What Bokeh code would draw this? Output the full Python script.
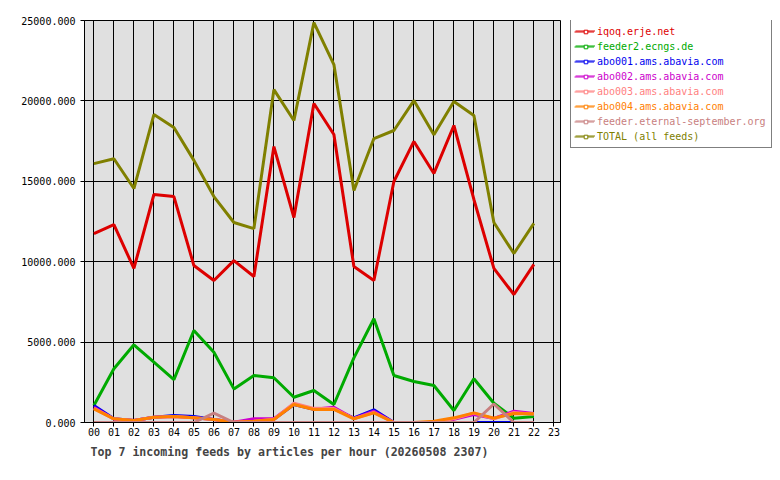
from bokeh.plotting import figure
from bokeh.layouts import row
from bokeh.models import (Range1d, FixedTicker, PrintfTickFormatter, Legend, LegendItem)
from bokeh.embed import file_html
from bokeh.resources import INLINE

hours = list(range(23))
hour_labels = ["%02d" % h for h in range(24)]

iqoq = [11750, 12310, 9580, 14180, 14050, 9760, 8830, 10070, 9080, 17160, 12750, 19840,
        17910, 9700, 8830, 14990, 17480, 15490, 18470, 13870, 9580, 7960, 9830]
feeder2 = [1060, 3340, 4830, 3750, 2670, 5720, 4370, 2090, 2920, 2780, 1570, 1990,
           1120, 4020, 6450, 2920, 2550, 2300, 750, 2720, 1200, 260, 380]
abo001 = [1060, 230, 120, 330, 435, 370, 190, 20, 80, 200, 1120, 820,
          850, 280, 790, 0, 0, 0, 0, 0, 0, 0, 0]
abo002 = [950, 220, 120, 320, 380, 300, 190, 20, 230, 230, 1150, 830,
          950, 250, 700, 0, 0, 0, 200, 500, 250, 700, 560]
abo003 = [880, 230, 120, 330, 370, 290, 190, 20, 80, 200, 1200, 880,
          870, 240, 620, 0, 0, 0, 230, 580, 230, 620, 520]
abo004 = [850, 230, 120, 330, 370, 290, 190, 20, 80, 190, 1120, 810,
          810, 230, 600, 0, 0, 80, 290, 600, 270, 560, 540]
eternal = [0, 0, 0, 0, 0, 0, 580, 0, 0, 0, 0, 0,
           0, 0, 0, 0, 0, 0, 0, 0, 1150, 0, 0]
total = [16100, 16400, 14550, 19150, 18350, 16300, 14050, 12440, 12060, 20700, 18780, 24870,
         22260, 14430, 17660, 18160, 20020, 17900, 19960, 19090, 12440, 10510, 12380]

names = ["iqoq.erje.net", "feeder2.ecngs.de", "abo001.ams.abavia.com", "abo002.ams.abavia.com",
         "abo003.ams.abavia.com", "abo004.ams.abavia.com", "feeder.eternal-september.org",
         "TOTAL (all feeds)"]
series = [iqoq, feeder2, abo001, abo002, abo003, abo004, eternal, total]
colors = ["#dd0000", "#00aa00", "#0000ee", "#cc00cc", "#ff8080", "#ff8000", "#c88080", "#808000"]

title_text = "Top 7 incoming feeds by articles per hour (20260508 2307)"
MONO = "DejaVu Sans Mono"
H = 462
FTOP = 20
FBOT = 40

p = figure(width=564, height=H, output_backend="svg", toolbar_location=None,
           x_range=Range1d(-0.47, 23.33), y_range=Range1d(0, 25000),
           title=title_text, title_location="below",
           min_border_left=84, min_border_right=4, min_border_top=FTOP, min_border_bottom=FBOT)

p.background_fill_color = "#e0e0e0"
p.border_fill_color = "white"
p.outline_line_color = "black"
p.outline_line_alpha = 1.0

p.title.text_font = MONO
p.title.text_font_size = "11.6px"
p.title.text_font_style = "bold"
p.title.align = "left"
p.title.offset = 6
p.title.standoff = 8

p.xaxis.ticker = FixedTicker(ticks=list(range(24)))
p.xaxis.major_label_overrides = {i: hour_labels[i] for i in range(24)}
p.yaxis.ticker = FixedTicker(ticks=[0, 5000, 10000, 15000, 20000, 25000])
p.yaxis.formatter = PrintfTickFormatter(format="%.3f")
for ax in (p.xaxis, p.yaxis):
    ax.major_label_text_font = MONO
    ax.major_label_text_font_size = "10px"
    ax.major_label_text_color = "black"
    ax.axis_line_color = "black"
    ax.major_tick_line_color = "black"
    ax.major_tick_out = 4
    ax.major_tick_in = 0
    ax.minor_tick_line_color = None
p.xaxis.major_label_standoff = 1
p.yaxis.major_label_standoff = 5

p.xgrid.ticker = FixedTicker(ticks=list(range(24)))
p.ygrid.ticker = FixedTicker(ticks=[0, 5000, 10000, 15000, 20000, 25000])
p.grid.grid_line_color = "black"
p.grid.grid_line_alpha = 1.0
p.grid.grid_line_width = 1

for ys, c in zip(series, colors):
    p.line(hours, ys, line_color=c, line_width=3)

# legend panel as a separate figure to the right
lf = figure(width=208, height=H, output_backend="svg", toolbar_location=None,
            x_axis_type=None, y_axis_type=None, x_range=Range1d(0, 1), y_range=Range1d(0, 1),
            min_border_left=0, min_border_right=0, min_border_top=FTOP, min_border_bottom=FBOT)
lf.outline_line_color = None
lf.background_fill_color = "white"
lf.border_fill_color = "white"
lf.grid.visible = False

nan = float("nan")
items = []
for name, c in zip(names, colors):
    l = lf.line(x=[nan], y=[nan], line_color=c, line_width=1)
    s = lf.scatter(x=[nan], y=[nan], marker="square", size=4, line_color=c,
                   fill_color="white", line_width=1)
    items.append((name, l, s, c))

PAD = 4
ROW = 15
LEFT = 6
GW = 20
MW = 9
frame_h = H - FTOP - FBOT
BOTTOM = frame_h - 2 * PAD - ROW * len(items)
common = dict(padding=PAD, spacing=0, margin=0, glyph_height=ROW,
              label_height=ROW, label_standoff=3, label_text_font=MONO,
              label_text_font_size="10px", label_text_baseline="middle")

# frame box of the legend (blank labels, fixed label width)
main = Legend(items=[LegendItem(label=" ", renderers=[l]) for n, l, s, c in items],
              location=(LEFT, BOTTOM), border_line_color="black", border_line_width=1,
              background_fill_color="white", background_fill_alpha=1.0,
              label_text_alpha=0.0, glyph_width=GW, label_width=169, **common)
lf.add_layout(main, "center")

top = BOTTOM + 2 * PAD + ROW * len(items)
for i, (n, l, s, c) in enumerate(items):
    lg = Legend(items=[LegendItem(label=n, renderers=[l])],
                location=(LEFT, top - ROW * i - (2 * PAD + ROW)),
                border_line_alpha=0.0, background_fill_alpha=0.0,
                label_text_color=c, glyph_width=GW, **common)
    lf.add_layout(lg, "center")

# small square markers centred on the legend lines
mk = Legend(items=[LegendItem(label=" ", renderers=[s]) for n, l, s, c in items],
            location=(LEFT + GW / 2 - MW / 2 + 1, BOTTOM),
            border_line_alpha=0.0, background_fill_alpha=0.0,
            label_text_alpha=0.0, glyph_width=MW, **common)
lf.add_layout(mk, "center")

layout = row(p, lf)
open("out.html", "w").write(file_html(layout, INLINE))
